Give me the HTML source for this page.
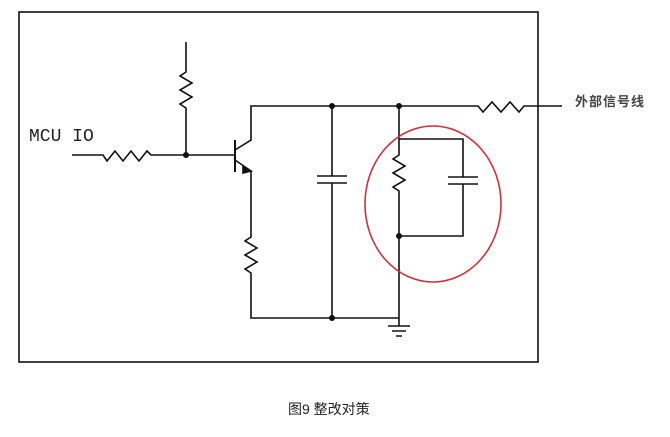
<!DOCTYPE html>
<html><head><meta charset="utf-8"><style>
body{margin:0;background:#fff;width:670px;height:432px;overflow:hidden}
</style></head><body>
<svg width="670" height="432" xmlns="http://www.w3.org/2000/svg">
<g fill="none" stroke="#111" stroke-width="1.6">
<rect x="19" y="12" width="519" height="350"/>
<path d="M186 42 V72 l-6 4 l12 7 l-12 7 l12 7 l-12 7 l6 4 V155"/>
<path d="M72 155 H103 l4 6 l8 -10 l8 10 l8 -10 l8 10 l8 -10 l4 4 H235"/>
<path d="M235 140 V172" stroke-width="2"/>
<path d="M235 150 L251 140 V106 H478 l5 6 l9 -10 l9 10 l9 -10 l9 10 l5 -6 H562"/>
<path d="M235 160 L251 171 V237 l-6 4 l12 7 l-12 7 l12 7 l-12 7 l6 4 V318 H399"/>
<path d="M243 166 L251 171 L243 173 Z" fill="#111"/>
<path d="M332 106 V176 M332 183 V318 M317 176 H347 M317 183 H347"/>
<path d="M399 106 V155 l-6 4 l12 7 l-12 7 l12 7 l-12 7 l6 4 V318"/>
<path d="M399 139 H463 V177 M463 184 V236 H399 M448 177 H478 M448 184 H478"/>
<path d="M399 318 V326 M388 326 H410 M392 331 H406 M396 336 H402"/>
</g>
<g fill="#111">
<circle cx="186" cy="155" r="3"/><circle cx="332" cy="106" r="3"/><circle cx="332" cy="318" r="3"/>
<circle cx="399" cy="106" r="3"/><circle cx="399" cy="236" r="3"/>
</g>
<ellipse cx="433" cy="204" rx="68" ry="78" fill="none" stroke="#d0303a" stroke-width="1.6"/>
<text x="29" y="141" font-family="Liberation Mono, monospace" font-size="18" fill="#222" xml:space="preserve">MCU IO</text>
<text x="575" y="106" font-family="Liberation Sans, 'Noto Sans CJK SC', sans-serif" font-size="13" font-weight="bold" fill="#444" letter-spacing="1">外部信号线</text>
<text x="288" y="414" font-family="Liberation Sans, 'Noto Sans CJK SC', sans-serif" font-size="14" fill="#222">图9  整改对策</text>
</svg>
</body></html>
